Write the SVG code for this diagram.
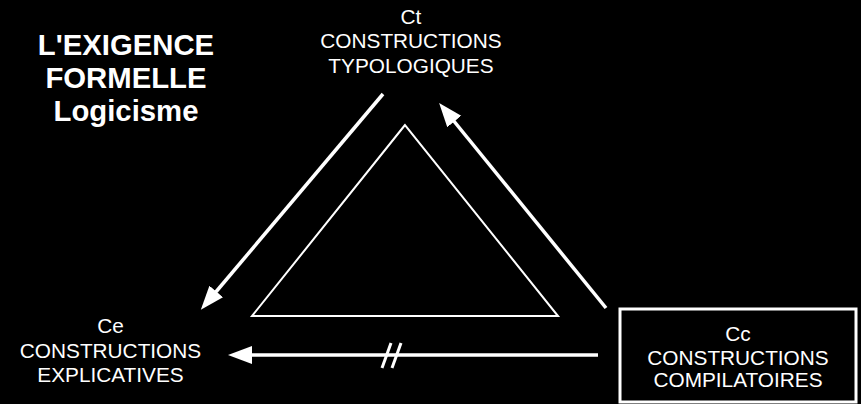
<svg xmlns="http://www.w3.org/2000/svg" width="861" height="404" viewBox="0 0 861 404">
<style>
text{font-family:"Liberation Sans",Arial,sans-serif;fill:#fff;text-anchor:middle}
.lbl{font-size:20.8px}
.title{font-size:29.3px;font-weight:bold}
.conn{stroke:#fff;stroke-width:3.5;fill:none}
</style>
<defs>
<marker id="ah" markerUnits="userSpaceOnUse" markerWidth="26" markerHeight="20" refX="2" refY="9" orient="auto">
<path d="M0,0 L24,9 L0,18 z" fill="#fff"/>
</marker>
</defs>
<rect width="861" height="404" fill="#000"/>
<g id="title">
<text class="title" x="126" y="55">L'EXIGENCE</text>
<text class="title" x="126" y="88">FORMELLE</text>
<text class="title" x="126" y="121">Logicisme</text>
</g>
<g id="triangle">
<polygon points="405,125 252,316 558,316" fill="none" stroke="#fff" stroke-width="2"/>
</g>
<g id="ct">
<text class="lbl" x="411" y="24">Ct</text>
<text class="lbl" x="411" y="48">CONSTRUCTIONS</text>
<text class="lbl" x="411" y="73">TYPOLOGIQUES</text>
</g>
<g id="ce">
<text class="lbl" x="110.5" y="333">Ce</text>
<text class="lbl" x="110.5" y="358">CONSTRUCTIONS</text>
<text class="lbl" x="110.5" y="382">EXPLICATIVES</text>
</g>
<g id="cc">
<rect x="620" y="309" width="236" height="93" fill="#000" stroke="#fff" stroke-width="3"/>
<text class="lbl" x="738" y="341">Cc</text>
<text class="lbl" x="738" y="365">CONSTRUCTIONS</text>
<text class="lbl" x="738" y="387">COMPILATOIRES</text>
</g>
<g id="connectors">
<line class="conn" x1="383" y1="94" x2="215" y2="293" marker-end="url(#ah)"/>
<line class="conn" x1="606" y1="308" x2="453" y2="120" marker-end="url(#ah)"/>
<line class="conn" x1="598" y1="355" x2="250" y2="355" marker-end="url(#ah)"/>
<line x1="382" y1="368" x2="391" y2="343" stroke="#fff" stroke-width="3"/>
<line x1="392" y1="368" x2="401" y2="343" stroke="#fff" stroke-width="3"/>
</g>
</svg>
